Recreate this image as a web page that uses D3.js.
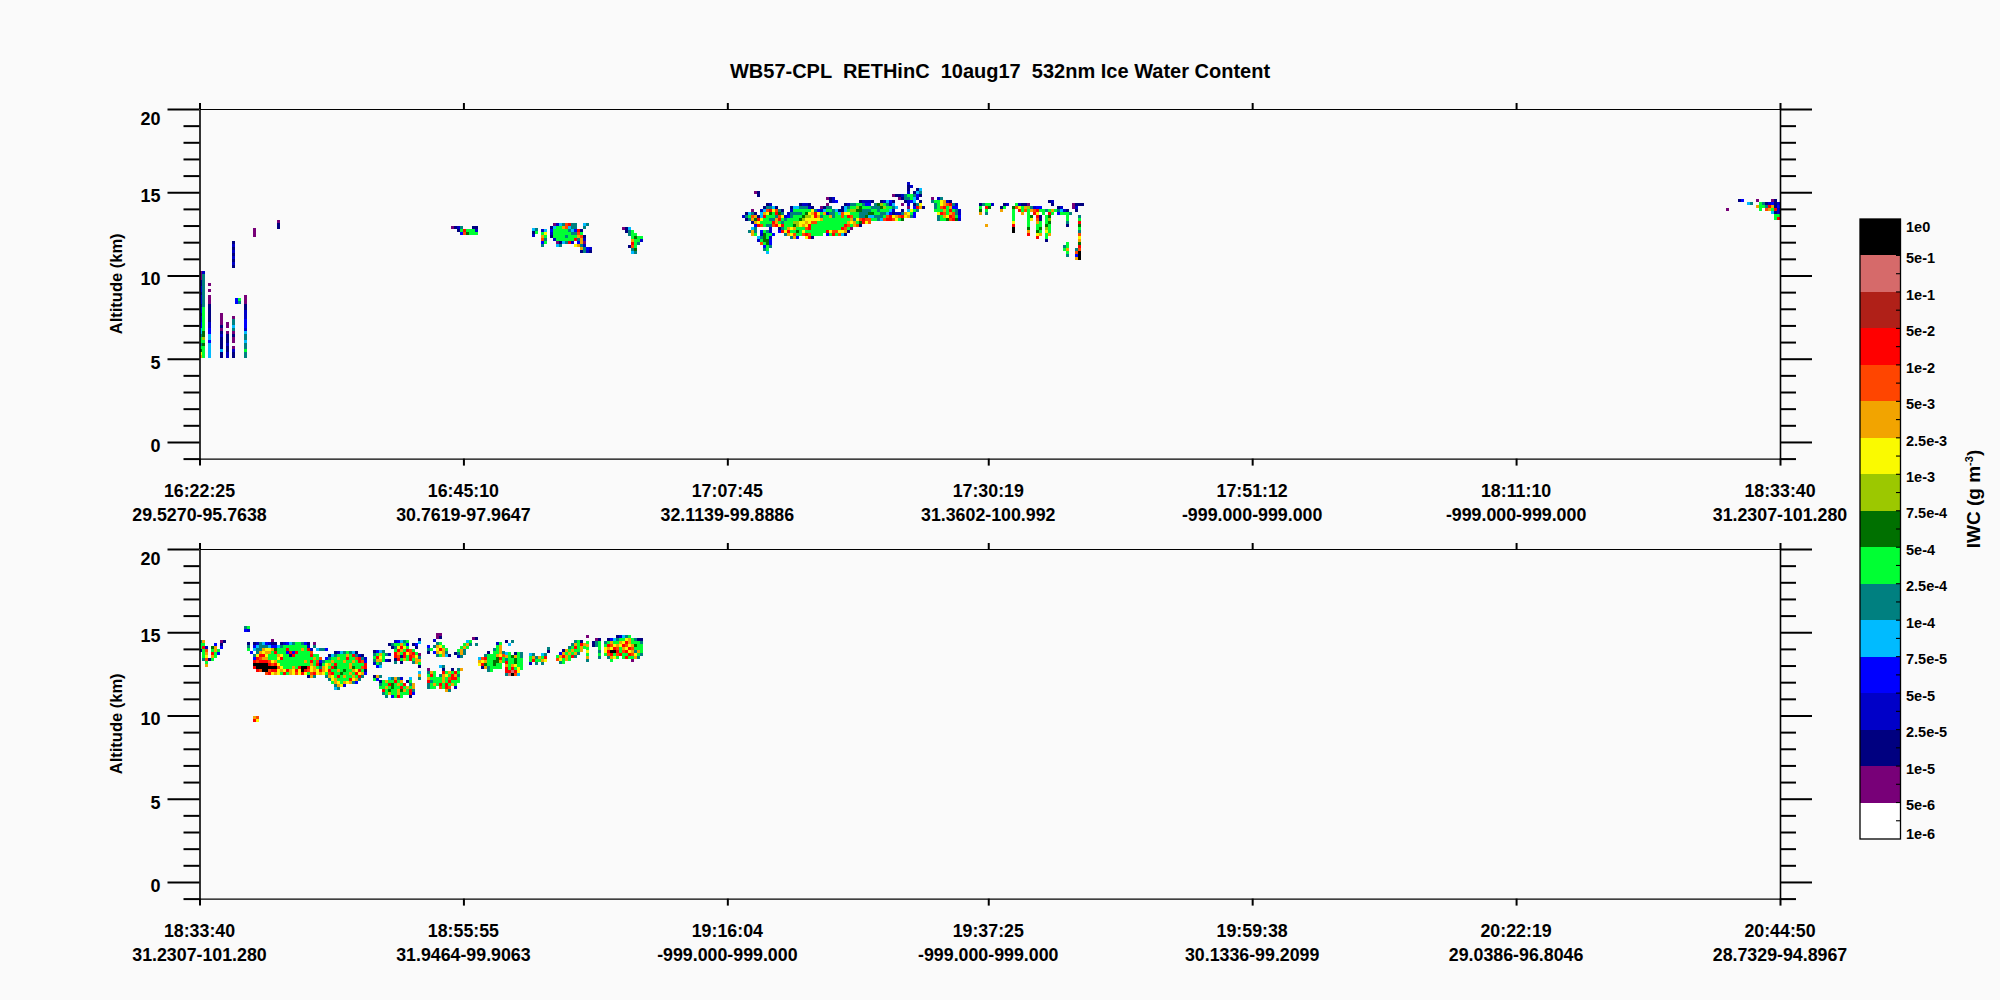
<!DOCTYPE html>
<html>
<head>
<meta charset="utf-8">
<script src="https://cdn.jsdelivr.net/npm/d3@7"></script>
<style>
  html, body { margin: 0; background: #fafafa; }
  text { font-family: "Liberation Sans", sans-serif; font-weight: bold; fill: #000; }
</style>
</head>
<body>
<svg id="chart" width="2000" height="1000"></svg>
<script>
const topTimes = ["16:22:25", "16:45:10", "17:07:45", "17:30:19", "17:51:12", "18:11:10", "18:33:40"];
const topCoords = ["29.5270-95.7638", "30.7619-97.9647", "32.1139-99.8886", "31.3602-100.992", "-999.000-999.000", "-999.000-999.000", "31.2307-101.280"];
const bottomTimes = ["18:33:40", "18:55:55", "19:16:04", "19:37:25", "19:59:38", "20:22:19", "20:44:50"];
const bottomCoords = ["31.2307-101.280", "31.9464-99.9063", "-999.000-999.000", "-999.000-999.000", "30.1336-99.2099", "29.0386-96.8046", "28.7329-94.8967"];
const tickProfiles = [0, 88, 176, 263, 351, 439, 527];
const altTicks = d3.range(-1, 21);

const barLabels = ["1e0", "5e-1", "1e-1", "5e-2", "1e-2", "5e-3", "2.5e-3", "1e-3", "7.5e-4", "5e-4", "2.5e-4", "1e-4", "7.5e-5", "5e-5", "2.5e-5", "1e-5", "5e-6", "1e-6"];
const barColors = ["#000000", "#d66a6a", "#b02018", "#ff0000", "#ff4500", "#f2a400", "#fafa00", "#9cc800", "#007000", "#00ff33", "#008080", "#00bbff", "#0000ff", "#0000c8", "#000080", "#780078", "#ffffff"];
const levelChars = "0123456789abcdef".split("");

// curtains: [first profile, top altitude km, rows of IWC levels, "." = no signal]
const topLeftColumns = [0, 12.07, [
  "...........1", "...........2", "...........1", "...........2", "...........1",
  "...........2", "...........1", "...........2", "...........1", "",
  "02", "05", "05", "15", "15.0", "25", "25.0", "15", "25.0...........0",
  "25.0........36.0", "25.0........35.0", "15.1...........1", "26.1...........1",
  "26.1...........2", "16.1...0.......2", "26.1...0...0...2", "26.1...0...5...3",
  "36.2...0.0.5...3", "36.2...1.0.4...3", "46.3...0...5...2", "47.3...1.0.0...4",
  "57.4...2.1.1...5", "68.4...1.1.0...5", "66.3...1.1.0...4", "57.4...1.2.....5",
  "66.4...1.1.0...5", "76.4...4.1.2...6", "96.4...1.2.1...5", "a6.4...1.2.1...5"
]];
const topSpeckA = [18, 12.85, ["0", "0", "0"]];
const topSpeckB = [26, 13.33, ["0", "1", "1"]];
const topStreak = [84, 12.97, ["0125...11", "..16c6662", "...3b7666"]];
const topBitA = [111, 12.85, ["45", "16", "2."]];
const topBitB = [114, 12.79, ["24", "69", "a6", "b5", "36", "5"]];
const topBlobA = [117, 13.15, [
  ".0245bc55..45", "1466ab455..5.", "366666543c1..", "266666655b6..", "166665666ab1.",
  ".2666666c5a2.", "..0145c2.3a0.", "..45....9a52", "..........a532", "..........1521"
]];
const topBlobB = [141, 12.91, ["014.", ".156.", "..566.", "...6766", "...a662", "...c65.", "..1b6.", "...57.", "...45"]];
const topMain = [181, 15.61, [
  ".......................................................2",
  ".......................................................12",
  ".......................................................1..14",
  "....01.................................................2.145",
  ".....1............................................0112566531",
  "............................012.....................0155642.",
  ".............................123.......12221..12431...1234.1",
  "........12.........1221.....0.....125566533.5786524..0.2.159",
  ".......15541....14455521..0155...1456687666555786654...0.3ca1",
  "...0..24bc9b51..26666669532466541146887755566566642..1.4965.",
  ".1451.4a976c75.25555679ac96a25564b9966655577665543 1225a963.".replace(" ", ""),
  "256ba14c6665b92356667889ca566a566b6cb66557445556bc9abc9a53..",
  ".15a7c96655ac6566667899999a666666666a59bcbb6654bccb967......",
  "...1a96666ca656668899a9bb6666666666a9a67c9b.......",
  "....3cb655bc9c666789a9c66666666666cb6ab1",
  "...45....2..156a9a666bc6666666666cb60...",
  "..5a5.3652..3c9c667696666666c9bb99a1....",
  "...a6.27663...5a9b66bcb6666.36c6b41.....",
  ".....45762......5a3..9c1......",
  ".....26773",
  "......b673",
  ".......365",
  ".......56.",
  "........4."
]];
const topMainEnd = [244, 14.71, ["0.25", "5669a21", ".569abc52", ".56bc6a33", ".666a6c652", "..9cb6ab52", "..56a9cb63", "..5667bc72"]];
const topCurtain = [260, 14.53, [
  ".......................12",
  "15662...12..62110.......1......0111",
  "6.c7...16..7b96a85233.....12...02",
  "7.6....a...6.c6b6abc6656a65421..1",
  "a.5........6..a.6.c9.6.c6.36665..",
  "...........6....67.c1.67.....6...5",
  "...........6....69.b1.68.....6...6",
  "...........9....6..a6.67.....5...c",
  "..a........c....6..66.76.....1...7",
  "...........f....7..67.86.........6",
  "...........f....a..76.96.........5",
  "................c..9a.6a.........b",
  "...................c..6..........9",
  "......................1..........a",
  ".............................6...7",
  "............................56...c",
  "............................6a..5b",
  ".............................6..bf",
  ".............................5..3f",
  "................................af"
]];
const topRightEdge = [509, 14.59, [
  "....13....0....01.", ".......45..6512312", "..........a665ca13", "0..........6.ba6c2",
  "...............412", "................66", "................6c"
]];

const botLeftEdge = [0, 14.53, ["5a.....01", "66...3.1.", "6c2.7a.3.", "16b.6a6..", ".6a.c63..", ".69.a6...", ".5b16....", "..6......", "..a......"]];
const botDot = [15, 15.37, ["56", "32"]];
const botLowDot = [18, 9.96, ["ab", "c9"]];
const botMain = [16, 14.59, [
  "........0",
  "1.12543211.1234566531.0",
  "5.3455543345666666662.5",
  "6.455a99a7666c6666a6c2.4553",
  ".3.5a9aa6c6663c3c6666b.......12456541",
  "..59cc9666a9661c66666c66...145666a6c521",
  "..3cbaa6669c6666666666a6b.3566a66c66bc52",
  "..cbcccb9a666666666a6c6b3566a666a66a6cb3",
  "..fffffcbc96666666666a6c169a6c6666a6666c",
  "..cfffffffb9666a6cffc9a65a96c76666a766bc",
  "...cbffbcc9a9ca9c9fcb9a9ca9c66a6766a9c61",
  "......bc9a96c6a9b9c96bc9a96bc66766a6c9a3",
  "....................1a5...5a96c6a66a6c5",
  "...........................59a6666c9a5",
  "............................6a96a9a53",
  ".............................5a92",
  ".............................45"
]];
const botClusterA = [58, 13.93, ["1345..", "56a652", "6c96..", "5aa621", "265...", ".34..."]];
const botClusterB = [63, 14.53, ["..23456...", "1566a63.13", ".159c96..1", "..6ca6cb6.", "..ca6c9bc6", "..cb1c6cb9", "..1c6a6c6a", "..5.1...5a"]];
const botClusterC = [58, 12.43, ["1a5", "63."]];
const botClusterD = [60, 12.31, ["...45a52..4", "16a66c6a.16", "566c76a6c.5a", "66a6766c6a6a", ".c6766a7a6c5", ".56a66a666c3", "..5.36c6..1"]];
const botStrip = [73, 14.65, ["1", "4", "", "", "", "0", "5", "a", "6", "1", "", "4", "a", "5"]];
const botClusterE = [76, 14.95, ["...00.", "...01.", "..2...", "...56.", "3.5a96", "56.9ca6", "1.3a9a5.", "...56a41"]];
const botClusterF = [85, 14.71, ["......01", "....46..", "...6a5.5", "..6a6...", ".6a5....", "15a5....", ".25....."]];
const botClusterG = [76, 13.03, ["....45......", "0....1..1.5a", "5a6..c6a6c6.", "6c6.5a96ca5.", "a6666a6bcc6.", "c5666a6c666", "56a6c6c6a6", "566.b6cb.2", "......a5"]];
const botClusterH = [93, 14.41, ["......26.", "......6a.", ".....56a.", "...1.66a5", "..5666a9b", "4bc6667c6", "a9a6677a6", "9c766766.", ".1a56666.", "...56.."]];
const botClusterI = [102, 14.53, ["1.5...", ".4....", "......", "......", "46.165", "a67a65", "566766", "c66766", "a6a966", "c6c696", "ccec9.", "5efb4."]];
const botClusterJ = [110, 14.11, ["......5", "......1", "45..45.", "6a5a6c.", "6c66a9.", "2.5.5."]];
const botClusterK = [119, 14.53, ["......561", ".....5a6ca", "....56c6a6", "..1a6a66a.", ".3a6a6a5..", "6aca6c5...", "b96a6.....", ".56......."]];
const botClusterL = [129, 14.83, ["0....", "...01", "6.156", "a.156", "6...6", "9...5", "6...6", "a...5", "5...."]];
const botClusterM = [135, 14.83, ["....12456.....", ".1345669a6511.", "56a66a9ca6665.", "6cb9a9cb9a766.", "9a9cb6a9cb666", "9cffc6bc9a5a6", "6bc6bc66cb965", ".5a96.6c66a5.", "..6......0..."]];

const topCurtains = [topLeftColumns, topSpeckA, topSpeckB, topStreak, topBitA, topBitB, topBlobA, topBlobB, topMain, topMainEnd, topCurtain, topRightEdge];
const bottomCurtains = [botLeftEdge, botDot, botLowDot, botMain, botClusterA, botClusterB, botClusterC, botClusterD, botStrip, botClusterE, botClusterF, botClusterG, botClusterH, botClusterI, botClusterJ, botClusterK, botClusterL, botClusterM];

const binKm = 0.18;
const svg = d3.select("#chart");
const x = d3.scaleLinear().domain([0, 527]).range([199.5, 1780]);
const y = d3.scaleLinear().domain([-1, 20]).range([349.6, 0]);
const levelColor = d3.scaleOrdinal(levelChars, barColors.slice(0, 16).reverse());

function cellsOf(curtains) {
  const cells = [];
  curtains.forEach(function (c) {
    c[2].forEach(function (row, r) {
      row.split("").forEach(function (ch, k) {
        if (ch !== ".") cells.push({ profile: c[0] + k, alt: c[1] - r * binKm, level: ch });
      });
    });
  });
  return cells;
}

function drawPanel(top, curtains, times, coords) {
  const g = svg.append("g").attr("transform", "translate(0," + top + ")");

  g.selectAll(".cell")
    .data(cellsOf(curtains))
    .enter()
    .append("rect")
    .attr("class", "cell")
    .attr("shape-rendering", "crispEdges")
    .attr("x", function (d) { return Math.round(x(d.profile)); })
    .attr("y", function (d) { return Math.round(y(d.alt)); })
    .attr("width", function (d) { return Math.min(Math.ceil(x(d.profile + 1) - x(d.profile)), 1780 - Math.round(x(d.profile))); })
    .attr("height", function (d) { return Math.ceil(y(d.alt - binKm) - y(d.alt)); })
    .attr("fill", function (d) { return levelColor(d.level); });

  const axes = [
    g.append("g").call(d3.axisTop(x).tickValues(tickProfiles).tickFormat("").tickSize(6).tickSizeOuter(0)),
    g.append("g").attr("transform", "translate(0," + y(-1) + ")").call(d3.axisBottom(x).tickValues(tickProfiles).tickFormat("").tickSize(7).tickSizeOuter(0)),
    g.append("g").attr("class", "left").attr("transform", "translate(" + x(0) + ",0)").call(d3.axisLeft(y).tickValues(altTicks).tickSize(16).tickSizeOuter(0)
      .tickFormat(function (d) { return d % 5 === 0 ? d : ""; })),
    g.append("g").attr("class", "right").attr("transform", "translate(" + x(527) + ",0)").call(d3.axisRight(y).tickValues(altTicks).tickSize(16).tickSizeOuter(0).tickFormat(""))
  ];
  axes.forEach(function (a) {
    a.select(".domain").attr("stroke-width", 1.6);
    a.selectAll(".tick line").attr("stroke-width", 2);
  });
  axes[0].select(".domain").attr("stroke-width", 1.2);
  axes[1].select(".domain").attr("stroke-width", 1.2);

  g.select(".left").selectAll(".tick").filter(function (d) { return d % 5 === 0; }).select("line").attr("x2", -32);
  g.select(".right").selectAll(".tick").filter(function (d) { return d % 5 === 0; }).select("line").attr("x2", 32);
  g.select(".left").selectAll(".tick text")
    .attr("x", -39).attr("dy", "0.36em")
    .attr("y", function (d) { return d === 20 ? 9 : 3; })
    .style("font-family", "Liberation Sans").style("font-weight", "bold").style("font-size", "18px").attr("fill", "#000");

  g.append("text")
    .attr("transform", "translate(116," + y(9.5) + ") rotate(-90)")
    .attr("text-anchor", "middle").attr("dy", "0.36em")
    .style("font-size", "16.5px")
    .text("Altitude (km)");

  tickProfiles.forEach(function (p, i) {
    g.append("text").attr("x", x(p)).attr("y", 388).attr("text-anchor", "middle").style("font-size", "17.8px").text(times[i]);
    g.append("text").attr("x", x(p)).attr("y", 412).attr("text-anchor", "middle").style("font-size", "17.8px").text(coords[i]);
  });
}

drawPanel(109, topCurtains, topTimes, topCoords);
drawPanel(549, bottomCurtains, bottomTimes, bottomCoords);

svg.append("text")
  .attr("x", 1000).attr("y", 78)
  .attr("text-anchor", "middle")
  .attr("xml:space", "preserve")
  .style("font-size", "20px")
  .style("white-space", "pre")
  .text("WB57-CPL  RETHinC  10aug17  532nm Ice Water Content");

// colour bar
const barY = d3.scaleLinear().domain([0, 17]).range([219, 839]);
const bar = svg.append("g");
bar.selectAll(".seg")
  .data(barColors)
  .enter()
  .append("rect")
  .attr("shape-rendering", "crispEdges")
  .attr("x", 1860)
  .attr("width", 40.5)
  .attr("y", function (d, i) { return barY(i); })
  .attr("height", function (d, i) { return barY(i + 1) - barY(i); })
  .attr("fill", function (d) { return d; });
bar.append("rect")
  .attr("x", 1860).attr("y", barY(0)).attr("width", 40.5).attr("height", barY(17) - barY(0))
  .attr("fill", "none").attr("stroke", "#000").attr("stroke-width", 1.3);
bar.selectAll(".tk")
  .data(d3.range(0.5, 17, 0.5))
  .enter()
  .append("line")
  .attr("x1", 1896).attr("x2", 1900.5)
  .attr("y1", function (d) { return barY(d); })
  .attr("y2", function (d) { return barY(d); })
  .attr("stroke", "#000").attr("stroke-width", 1.1);
bar.selectAll(".lab")
  .data(barLabels)
  .enter()
  .append("text")
  .attr("x", 1906)
  .attr("y", function (d, i) { return barY(i) + (i === 0 ? 8 : i === 17 ? -5 : 2.5); })
  .attr("dy", "0.36em")
  .style("font-size", "14.5px")
  .text(function (d) { return d; });

const barTitle = svg.append("text")
  .attr("transform", "translate(1973,499) rotate(-90)")
  .attr("text-anchor", "middle")
  .attr("dy", "0.36em")
  .style("font-size", "19px");
barTitle.append("tspan").text("IWC (g m");
barTitle.append("tspan").attr("dy", "-7").style("font-size", "11px").text("-3");
barTitle.append("tspan").attr("dy", "7").text(")");
</script>
</body>
</html>
